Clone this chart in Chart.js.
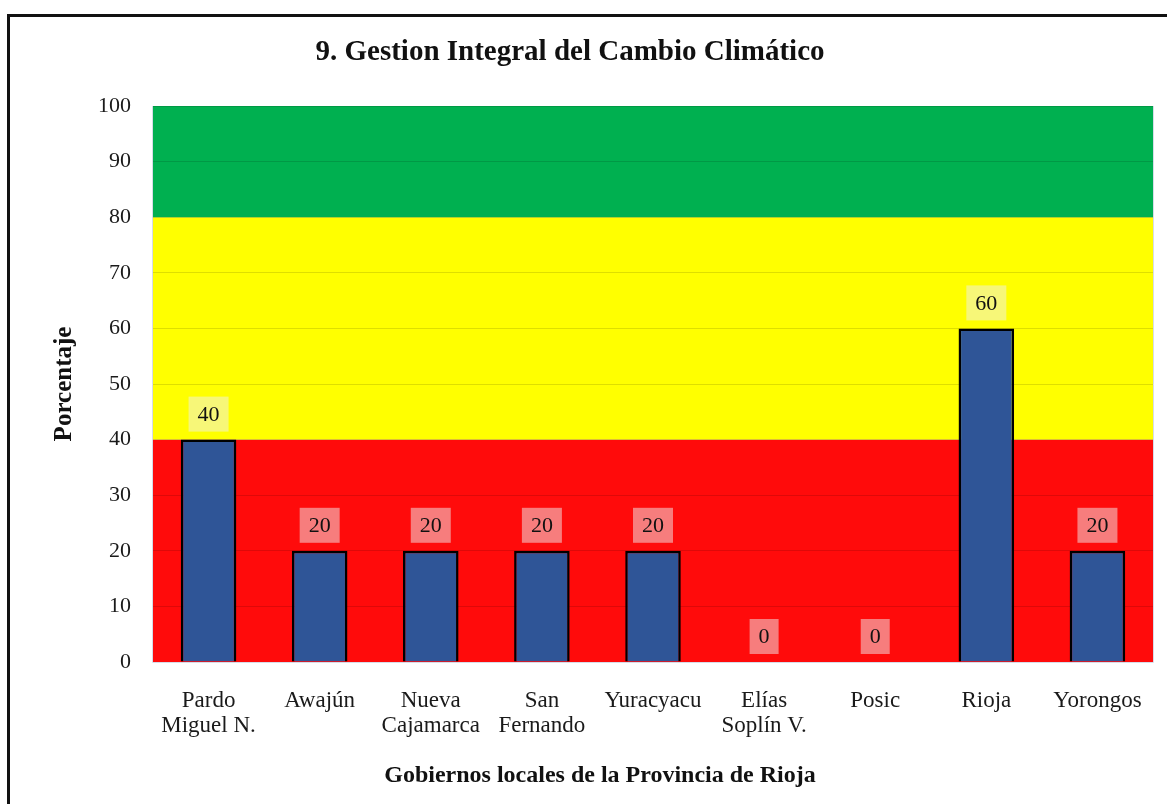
<!DOCTYPE html>
<html>
<head>
<meta charset="utf-8">
<script src="https://cdn.jsdelivr.net/npm/chart.js"></script>
<style>
  body { margin: 0; background: #fff; overflow: hidden; }
  #wrap { position: relative; width: 1167px; height: 804px; }
  #myChart { display: block; }
  #frame { position: absolute; left: 7px; top: 14px; width: 2000px; height: 2000px; border: 3px solid #111; pointer-events: none; }
</style>
</head>
<body>
<div id="wrap">
  <canvas id="myChart" width="1167" height="804"></canvas>
  <div id="frame"></div>
</div>
<script>
const chartTitle = '9. Gestion Integral del Cambio Climático';
const xTitle = 'Gobiernos locales de la Provincia de Rioja';
const yTitle = 'Porcentaje';
const gobiernos = [['Pardo', 'Miguel N.'], 'Awajún', ['Nueva', 'Cajamarca'], ['San', 'Fernando'], 'Yuracyacu', ['Elías', 'Soplín V.'], 'Posic', 'Rioja', 'Yorongos'];
const porcentaje = [40, 20, 20, 20, 20, 0, 0, 60, 20];
const bandFrom = [0, 40, 80];
const bandTo = [40, 80, 100];
const bandColors = ['#FF0B0B', '#FFFF00', '#00B050'];

const serif = "'Liberation Serif', 'Times New Roman', serif";

// coloured ranges behind the bars + chart title and x title
const bands = {
  id: 'bands',
  beforeDraw(chart) {
    const {ctx, chartArea: a, scales: {y}} = chart;
    ctx.save();
    bandFrom.forEach((from, i) => {
      const top = y.getPixelForValue(bandTo[i]);
      const bottom = y.getPixelForValue(from);
      ctx.fillStyle = bandColors[i];
      ctx.fillRect(a.left, top, a.right - a.left, bottom - top);
    });
    ctx.fillStyle = '#111';
    ctx.textAlign = 'center';
    ctx.textBaseline = 'middle';
    ctx.font = `bold 29px ${serif}`;
    ctx.fillText(chartTitle, 570, 53);
    ctx.font = `bold 24px ${serif}`;
    ctx.fillText(xTitle, 600, 776);
    ctx.restore();
  },
  beforeDatasetsDraw(chart) {
    const {ctx, chartArea: a} = chart;
    ctx.save();
    ctx.strokeStyle = '#D6DCE8';
    ctx.lineWidth = 1;
    ctx.beginPath();
    ctx.moveTo(a.left - 0.5, a.top);
    ctx.lineTo(a.left - 0.5, a.bottom + 0.5);
    ctx.lineTo(a.right + 0.5, a.bottom + 0.5);
    ctx.lineTo(a.right + 0.5, a.top);
    ctx.stroke();
    ctx.restore();
  }
};

// value boxes above each bar
const valueLabels = {
  id: 'valueLabels',
  afterDatasetsDraw(chart) {
    const ctx = chart.ctx;
    const meta = chart.getDatasetMeta(0);
    ctx.save();
    ctx.font = `22px ${serif}`;
    ctx.textAlign = 'center';
    ctx.textBaseline = 'middle';
    meta.data.forEach((bar, i) => {
      const txt = String(porcentaje[i]);
      const w = ctx.measureText(txt).width + 18;
      const h = 35;
      const bottom = bar.y - 8;
      ctx.fillStyle = 'rgba(240,240,240,0.5)';
      ctx.fillRect(bar.x - w / 2, bottom - h, w, h);
      ctx.fillStyle = '#111';
      ctx.fillText(txt, bar.x, bottom - h / 2 + 1);
    });
    ctx.restore();
  }
};

const config = {
  type: 'bar',
  data: {
    labels: gobiernos,
    datasets: [{
      label: yTitle,
      data: porcentaje,
      backgroundColor: '#2F5597',
      borderColor: '#000',
      borderWidth: 2.5,
      categoryPercentage: 1,
      barPercentage: 0.5
    }]
  },
  options: {
    responsive: false,
    animation: false,
    layout: { padding: { top: 106, right: 14, left: 0, bottom: 0 } },
    plugins: {
      legend: { display: false },
      tooltip: { enabled: false },
      title: { display: false }
    },
    scales: {
      x: {
        grid: { display: false },
        border: { display: false },
        ticks: {
          color: '#1a1a1a',
          font: { family: serif, size: 23, lineHeight: 1.09 },
          padding: 18,
          maxRotation: 0,
          autoSkip: false
        },
        afterFit(s) { s.height = 142; }
      },
      y: {
        min: 0,
        max: 100,
        ticks: {
          stepSize: 10,
          color: '#1a1a1a',
          font: { family: serif, size: 22 },
          padding: 22
        },
        grid: { color: 'rgba(0,0,0,0.13)', drawTicks: false },
        border: { display: false },
        title: {
          display: true,
          text: yTitle,
          color: '#111',
          font: { family: serif, size: 25, weight: 'bold' },
          padding: { top: 50, bottom: 0 }
        },
        afterFit(s) { s.width = 153; }
      }
    }
  },
  plugins: [bands, valueLabels]
};

const mychart = new Chart(document.getElementById('myChart'), config);
</script>
</body>
</html>
